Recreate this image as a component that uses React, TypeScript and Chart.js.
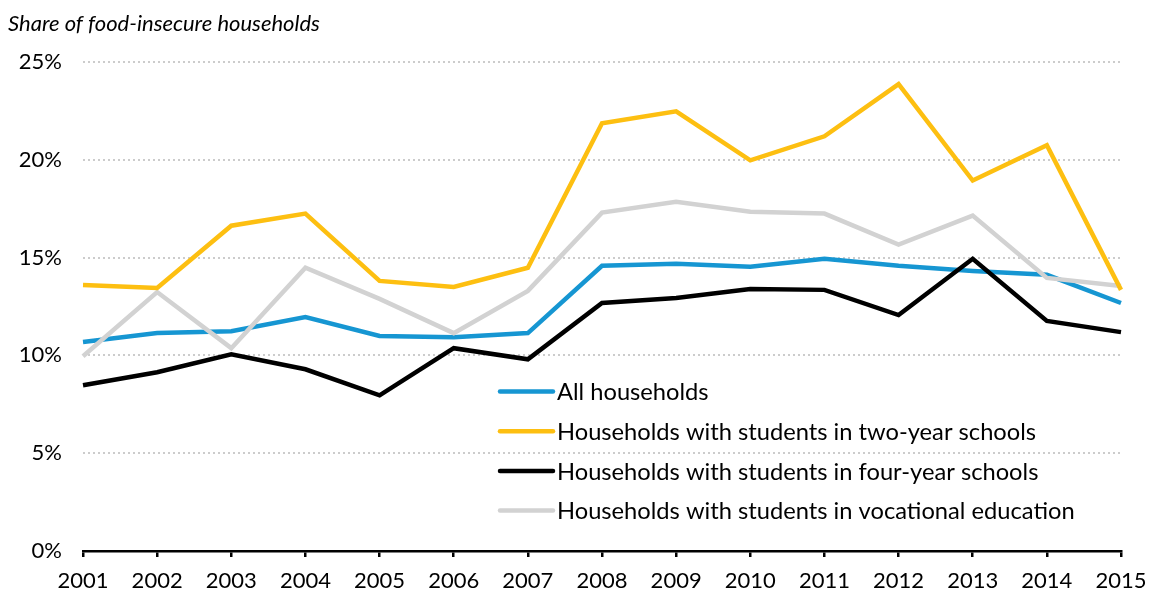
import React, { useEffect, useRef } from "react";
import { Chart, registerables } from "chart.js";

Chart.register(...registerables);

const years = ["2001","2002","2003","2004","2005","2006","2007","2008","2009","2010","2011","2012","2013","2014","2015"];
const allHouseholds = [10.68, 11.14, 11.24, 11.96, 10.99, 10.93, 11.14, 14.58, 14.68, 14.53, 14.94, 14.58, 14.32, 14.12, 12.68];
const twoYear = [13.6, 13.45, 16.63, 17.25, 13.81, 13.5, 14.48, 21.87, 22.48, 19.97, 21.2, 23.87, 18.94, 20.74, 13.35];
const fourYear = [8.47, 9.14, 10.06, 9.29, 7.96, 10.37, 9.8, 12.68, 12.94, 13.4, 13.35, 12.06, 14.94, 11.76, 11.19];
const vocational = [9.96, 13.24, 10.37, 14.48, 12.89, 11.14, 13.3, 17.3, 17.86, 17.35, 17.25, 15.66, 17.15, 13.96, 13.55];
const seriesLabels = [
  "All households",
  "Households with students in two-year schools",
  "Households with students in four-year schools",
  "Households with students in vocational education",
];
const yTicks = [0, 5, 10, 15, 20, 25];
const titleText = "Share of food-insecure households";

const FONT = "Lato, 'Noto Sans', sans-serif";

const legendPlugin = {
  id: "insideLegend",
  afterDatasetsDraw(chart: any) {
    const ctx = chart.ctx;
    const x0 = 500;
    const y0 = 391.5;
    const gap = 39.7;
    ctx.save();
    ctx.font = `23.7px ${FONT}`;
    ctx.textBaseline = "middle";
    ctx.textAlign = "left";
    chart.data.datasets.forEach((ds: any, i: number) => {
      const y = y0 + i * gap;
      ctx.strokeStyle = ds.borderColor;
      ctx.lineWidth = 4.5;
      ctx.lineCap = "round";
      ctx.beginPath();
      ctx.moveTo(x0, y);
      ctx.lineTo(x0 + 53, y);
      ctx.stroke();
      ctx.fillStyle = "#000";
      ctx.fillText(ds.label, x0 + 57, y + 1);
    });
    ctx.restore();
  },
};

export default function App() {
  const ref = useRef<HTMLCanvasElement>(null);
  useEffect(() => {
    if (!ref.current) return;
    const chart = new Chart(ref.current, {
      type: "line",
      data: {
        labels: years,
        datasets: [
          { label: seriesLabels[0], data: allHouseholds, borderColor: "#1696d2", backgroundColor: "#1696d2", order: 3 },
          { label: seriesLabels[1], data: twoYear, borderColor: "#fdbf11", backgroundColor: "#fdbf11", order: 0 },
          { label: seriesLabels[2], data: fourYear, borderColor: "#000000", backgroundColor: "#000000", order: 1 },
          { label: seriesLabels[3], data: vocational, borderColor: "#d2d2d2", backgroundColor: "#d2d2d2", order: 2 },
        ].map((d) => ({ ...d, borderWidth: 4.5, pointRadius: 0, tension: 0, fill: false })),
      },
      options: {
        animation: false,
        responsive: false,
        maintainAspectRatio: false,
        layout: { padding: { left: 8, right: 0, top: 0, bottom: 0 } },
        plugins: {
          legend: { display: false },
          tooltip: { enabled: false },
          title: {
            display: true,
            text: titleText,
            align: "start",
            color: "#000",
            font: { family: FONT, size: 22, style: "italic", weight: "normal", lineHeight: 1.2 },
            padding: { top: 10.6, bottom: 25 },
          },
        },
        scales: {
          x: {
            type: "category",
            offset: false,
            afterFit(scale: any) {
              scale.height = 39;
              scale.paddingRight = 28;
              scale.paddingLeft = 0;
            },
            grid: { drawOnChartArea: false, drawTicks: true, tickLength: 6, color: "#000", lineWidth: 2.5 },
            border: { display: true, color: "#000", width: 2.5 },
            ticks: { color: "#000", font: { family: FONT, size: 22 }, padding: 11, maxRotation: 0, autoSkip: false },
          },
          y: {
            min: 0,
            max: 25,
            afterFit(scale: any) { scale.width = 75; },
            afterBuildTicks(scale: any) { scale.ticks = yTicks.map((v) => ({ value: v })); },
            grid: { drawTicks: false, color: "#cccccc", lineWidth: 2 },
            border: { display: false, dash: [2, 3] },
            ticks: {
              color: "#000",
              font: { family: FONT, size: 22 },
              padding: 21,
              callback: (v: any) => v + "%",
            },
          },
        },
      },
      plugins: [legendPlugin],
    });
    return () => chart.destroy();
  }, []);
  return (
    <div style={{ position: "fixed", left: 0, top: 0, width: 1149, height: 590, background: "#fff" }}>
      <canvas ref={ref} width={1149} height={590} />
    </div>
  );
}
